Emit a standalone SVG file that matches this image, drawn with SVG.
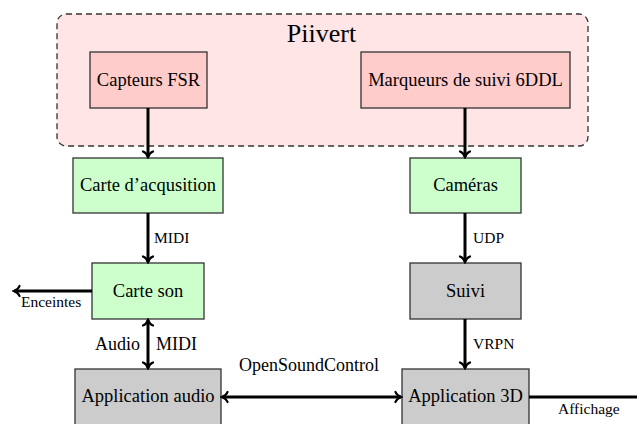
<svg xmlns="http://www.w3.org/2000/svg" width="637" height="424" viewBox="0 0 637 424">
<style>
text{font-family:"Liberation Serif","Times New Roman",serif;fill:#000}
.box{stroke:#333;stroke-width:1.3}
.red{fill:#ffcccc}.green{fill:#ccffcc}.gray{fill:#cccccc}
.lbl{font-size:18.5px;text-anchor:middle}
.sm{font-size:15.5px}
.md{font-size:18px}
.con{stroke:#000;stroke-width:3;fill:none}
</style>
<defs>
<marker id="ah" markerUnits="userSpaceOnUse" viewBox="-8 -7 10 14" refX="0" refY="0" markerWidth="10" markerHeight="14" orient="auto-start-reverse">
<path d="M-5.5,-5 C-4.5,-1.8 -1.5,-0.6 0,0 C-1.5,0.6 -4.5,1.8 -5.5,5" fill="none" stroke="#000" stroke-width="2.2" stroke-linecap="round"/>
</marker>
</defs>
<g id="piivert">
<rect x="57" y="14" width="531" height="132" rx="9" fill="#ffe5e5" stroke="#333" stroke-width="1.3" stroke-dasharray="6,4"/>
<text x="321.5" y="42" font-size="26" text-anchor="middle">Piivert</text>
</g>
<g id="capteurs"><rect class="box red" x="90" y="52" width="117" height="56"/><text class="lbl" x="148.5" y="86">Capteurs FSR</text></g>
<g id="marqueurs"><rect class="box red" x="361" y="52" width="209" height="56"/><text class="lbl" x="465.5" y="86">Marqueurs de suivi 6DDL</text></g>
<g id="acquisition"><rect class="box green" x="73" y="158" width="150" height="55"/><text class="lbl" x="148" y="191">Carte d’acqusition</text></g>
<g id="cameras"><rect class="box green" x="410" y="158" width="111" height="55"/><text class="lbl" x="465.5" y="191">Caméras</text></g>
<g id="carteson"><rect class="box green" x="92" y="263" width="112" height="56"/><text class="lbl" x="148" y="297">Carte son</text></g>
<g id="suivi"><rect class="box gray" x="410" y="263" width="111" height="56"/><text class="lbl" x="465.5" y="297">Suivi</text></g>
<g id="appaudio"><rect class="box gray" x="75" y="369" width="146" height="62"/><text class="lbl" x="148" y="402">Application audio</text></g>
<g id="app3d"><rect class="box gray" x="402" y="369" width="127" height="62"/><text class="lbl" x="465.5" y="402">Application 3D</text></g>
<g id="connectors">
<line class="con" x1="148" y1="108" x2="148" y2="157" marker-end="url(#ah)"/>
<line class="con" x1="465" y1="108" x2="465" y2="157" marker-end="url(#ah)"/>
<line class="con" x1="148" y1="213" x2="148" y2="262" marker-end="url(#ah)"/>
<line class="con" x1="465" y1="213" x2="465" y2="262" marker-end="url(#ah)"/>
<line class="con" x1="92" y1="291" x2="14" y2="291" marker-end="url(#ah)"/>
<line class="con" x1="148" y1="320" x2="148" y2="368" marker-start="url(#ah)" marker-end="url(#ah)"/>
<line class="con" x1="465" y1="319" x2="465" y2="368" marker-end="url(#ah)"/>
<line class="con" x1="222" y1="397" x2="401" y2="397" marker-start="url(#ah)" marker-end="url(#ah)"/>
<line class="con" x1="529" y1="397" x2="640" y2="397"/>
<text class="sm" x="154" y="243">MIDI</text>
<text class="sm" x="473" y="243">UDP</text>
<text class="sm" x="473" y="349">VRPN</text>
<text class="sm" x="21" y="307">Enceintes</text>
<text class="md" x="140" y="350" text-anchor="end">Audio</text>
<text class="md" x="156" y="350">MIDI</text>
<text class="md" x="239" y="371">OpenSoundControl</text>
<text class="sm" x="558" y="414">Affichage</text>
</g>
</svg>
